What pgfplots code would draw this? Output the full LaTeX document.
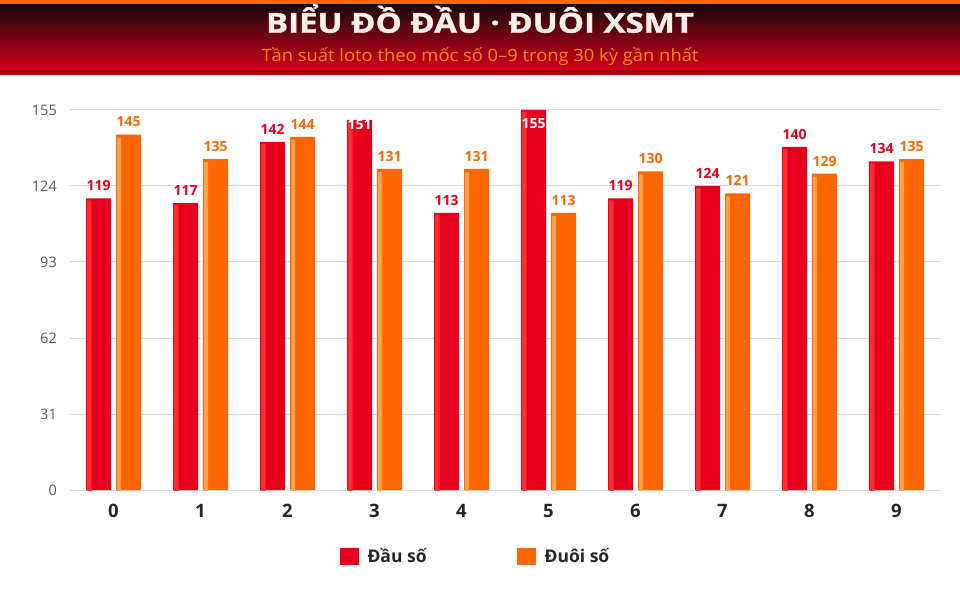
\documentclass[border=0pt]{standalone}
\usepackage{fontspec}
\setmainfont{Open Sans}
\usepackage{pgfplots}
\usepackage{pgfplotstable}
\pgfplotsset{compat=1.18}

\definecolor{dau}{HTML}{E6001E}
\definecolor{dauhi}{HTML}{FF2E2E}
\definecolor{duoi}{HTML}{FF6600}
\definecolor{duoihi}{HTML}{FFA050}
\definecolor{gridc}{HTML}{DADADA}
\definecolor{headtop}{HTML}{1A080A}
\definecolor{headbot}{HTML}{D2001A}
\definecolor{headband}{HTML}{A8000F}
\definecolor{titlec}{HTML}{FFF0E6}
\definecolor{subc}{HTML}{FF8A1A}

% dau = red series, duoi = orange series
\pgfplotstableread{
x dau duoi
0 119 145
1 117 135
2 142 144
3 151 131
4 113 131
5 155 113
6 119 130
7 124 121
8 140 129
9 134 135
}\datatable

\begin{document}
\begin{tikzpicture}[x=1pt,y=1pt]
\path[use as bounding box, fill=white] (0,0) rectangle (960,600);
% header
\shade[top color=headtop, bottom color=headbot] (0,530) rectangle (960,596);
\fill[duoi] (0,596) rectangle (960,600);
\fill[headband] (0,525) rectangle (960,530);
\node[text=titlec, font=\bfseries\fontsize{27.5}{32}\selectfont, anchor=base] at (480,567.3)
  {\scalebox{1.2}[1]{\addfontfeature{FakeBold=1.2}BIỂU ĐỒ ĐẦU · ĐUÔI XSMT}};
\node[text=subc, font=\fontsize{17}{20}\selectfont, anchor=base] at (480,538)
  {\scalebox{1.08}[1]{Tần suất loto theo mốc số 0–9 trong 30 kỳ gần nhất}};

\begin{axis}[
  at={(70pt,110pt)}, anchor=south west,
  scale only axis, width=870pt, height=380pt,
  xmin=-0.5, xmax=9.5, ymin=0, ymax=155,
  xtick={0,...,9}, ytick={0,31,62,93,124,155},
  axis line style={draw=none},
  major tick length=0pt,
  ymajorgrids, grid style={draw=gridc, line width=1pt},
  /pgf/number format/assume math mode=true,
  yticklabel style={font=\fontsize{14.5}{16}\selectfont, text=black!65, inner sep=0pt, anchor=east, xshift=-13pt},
  xticklabel style={font=\bfseries\fontsize{18.5}{20}\selectfont, text=black!85, inner sep=0pt, anchor=north, yshift=-14pt},
  legend style={draw=none, fill=none, at={(0.466,-0.174)}, anchor=center,
    font=\bfseries\fontsize{17.5}{20}\selectfont, text=black!85,
    legend columns=2, /tikz/every odd column/.append style={column sep=7pt},
    /tikz/every even column/.append style={column sep=88pt}},
  legend image code/.code={\fill[#1] (0pt,-8.5pt) rectangle (19pt,8.5pt);},
  visualization depends on={y \as \rawy},
  nodes near coords={\ifdim\rawy pt>150pt\color{white}\fi\pgfmathprintnumber{\rawy}},
  every node near coord/.append style={font=\bfseries\fontsize{14}{16}\selectfont, anchor=center, inner sep=0pt,
    yshift={ifthenelse(\rawy>150, -4.5-(\rawy-151)*2.3, 12.6)}},
]
\addplot[ybar, bar width=25pt, bar shift=-15pt, fill=dau, draw=none, text=dau,
  every node near coord/.append style={xshift=-15pt}] table[x=x, y=dau] {\datatable};
\addlegendentry{Đầu số}
\addplot[ybar, bar width=25pt, bar shift=15pt, fill=duoi, draw=none, text=duoi,
  every node near coord/.append style={xshift=15pt}] table[x=x, y=duoi] {\datatable};
\addlegendentry{Đuôi số}
% highlight stripes
\addplot[ybar, bar width=4.5pt, bar shift=-24.2pt, fill=dauhi, draw=none, yshift=-2pt, nodes near coords={}, forget plot] table[x=x, y=dau] {\datatable};
\addplot[ybar, bar width=4pt, bar shift=5.5pt, fill=duoihi, draw=none, yshift=-3pt, nodes near coords={}, forget plot] table[x=x, y=duoi] {\datatable};
\end{axis}
\end{tikzpicture}
\end{document}
